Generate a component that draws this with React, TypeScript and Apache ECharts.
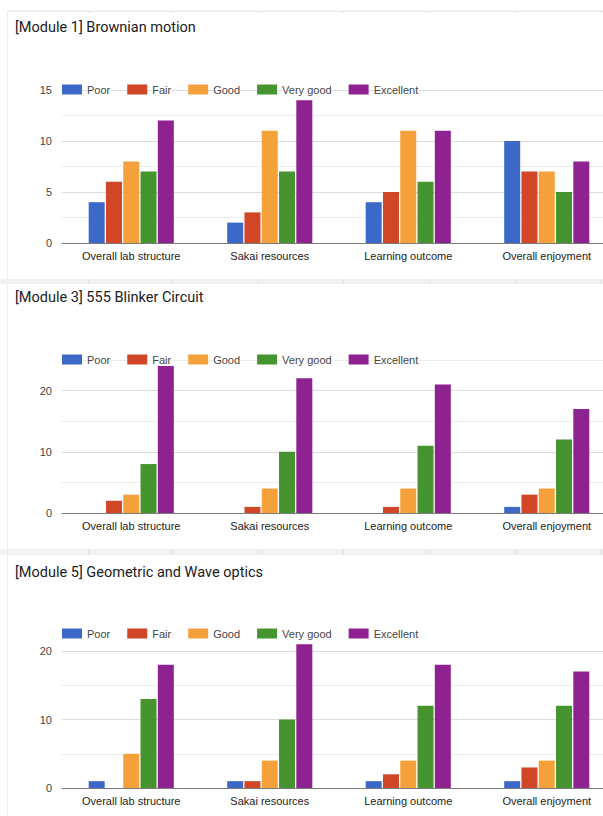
import React, { useEffect, useRef } from "react";
import * as echarts from "echarts";

const categories = ["Overall lab structure", "Sakai resources", "Learning outcome", "Overall enjoyment"];
const ratings = ["Poor", "Fair", "Good", "Very good", "Excellent"];
const ratingColors = ["#3c69c8", "#d04627", "#f4a13b", "#45942f", "#8e2290"];

const titles = ["[Module 1] Brownian motion", "[Module 3] 555 Blinker Circuit", "[Module 5] Geometric and Wave optics"];

// Module 1
const m1Poor = [4, 2, 4, 10];
const m1Fair = [6, 3, 5, 7];
const m1Good = [8, 11, 11, 7];
const m1VeryGood = [7, 7, 6, 5];
const m1Excellent = [12, 14, 11, 8];

// Module 3
const m3Poor = [0, 0, 0, 1];
const m3Fair = [2, 1, 1, 3];
const m3Good = [3, 4, 4, 4];
const m3VeryGood = [8, 10, 11, 12];
const m3Excellent = [24, 22, 21, 17];

// Module 5
const m5Poor = [1, 1, 1, 1];
const m5Fair = [0, 1, 2, 3];
const m5Good = [5, 4, 4, 4];
const m5VeryGood = [13, 10, 12, 12];
const m5Excellent = [18, 21, 18, 17];

const yMax = [15, 25, 20];
const yInterval = [2.5, 5, 5];
const yLabelStep = [5, 10, 10];

const panels = [
  [m1Poor, m1Fair, m1Good, m1VeryGood, m1Excellent],
  [m3Poor, m3Fair, m3Good, m3VeryGood, m3Excellent],
  [m5Poor, m5Fair, m5Good, m5VeryGood, m5Excellent],
];

// layout
const gridTops = [90, 360, 651];
const gridHeights = [153, 153, 137];
const titleTops = [20, 290, 565];
const legendTops = [84, 354, 628];
const bandYs = [[10, 2.5], [279, 5], [549, 6]];
const colXs = [88, 172, 258, 343, 429, 515, 600];

export default function App() {
  const ref = useRef<HTMLDivElement>(null);
  useEffect(() => {
    if (!ref.current) return;
    const chart = echarts.init(ref.current, null, { renderer: "svg" });
    const font = "Liberation Sans, Arial, sans-serif";

    const grids = gridTops.map((t, i) => ({ left: 62, right: 14, top: t, height: gridHeights[i] }));
    const xAxes = gridTops.map((_, i) => ({
      type: "category",
      gridIndex: i,
      data: categories,
      axisTick: { show: false },
      axisLine: { lineStyle: { color: "#7a7a7a", width: 1 } },
      axisLabel: { color: "#222", fontSize: 11, fontFamily: font, margin: 7, interval: 0 },
    }));
    const yAxes = gridTops.map((_, i) => ({
      type: "value",
      gridIndex: i,
      min: 0,
      max: yMax[i],
      interval: yInterval[i],
      axisLine: { show: false },
      axisTick: { show: false },
      axisLabel: {
        color: "#444",
        fontSize: 11,
        fontFamily: font,
        margin: 10,
        formatter: (v: number) => (v % yLabelStep[i] === 0 && !(i === 1 && v === 25) ? String(v) : ""),
      },
      splitLine: { lineStyle: { color: ["#dcdcdc", "#ececec"], width: 1 } },
    }));

    const series: any[] = [];
    panels.forEach((vals, p) => {
      vals.forEach((arr, r) => {
        series.push({
          type: "bar",
          name: ratings[r],
          xAxisIndex: p,
          yAxisIndex: p,
          data: arr,
          barWidth: 16,
          barGap: "8%",
          clip: false,
          itemStyle: { color: ratingColors[r] },
          emphasis: { disabled: true },
        });
      });
    });

    const titleOpts = titles.map((t, i) => ({
      text: t,
      left: 15,
      top: titleTops[i],
      padding: 0,
      textStyle: { fontFamily: "Roboto, Arial, sans-serif", fontSize: 14.5, fontWeight: "normal", color: "#202124" },
    }));

    const legends = legendTops.map((t) => ({
      data: ratings,
      left: 62,
      top: t,
      padding: 0,
      itemWidth: 20,
      itemHeight: 10,
      itemGap: 17,
      icon: "rect",
      selectedMode: false,
      textStyle: { color: "#444", fontSize: 11, fontFamily: font, backgroundColor: "#fff" },
    }));

    const graphics: any[] = [];
    bandYs.forEach(([y, h], i) => {
      graphics.push({ type: "rect", shape: { x: i === 0 ? 7 : 0, y, width: 630, height: h }, style: { fill: "#f1f1f1" }, silent: true });
      colXs.forEach((x) => {
        graphics.push({ type: "rect", shape: { x, y, width: 1, height: h }, style: { fill: "#e4e4e4" }, silent: true });
      });
    });
    graphics.push({ type: "line", shape: { x1: 7.5, y1: 12, x2: 7.5, y2: 816 }, style: { stroke: "#eeeeee", lineWidth: 1 }, silent: true });

    chart.setOption({
      animation: false,
      backgroundColor: "#ffffff",
      title: titleOpts,
      legend: legends,
      grid: grids,
      xAxis: xAxes,
      yAxis: yAxes,
      series,
      graphic: graphics,
    });
    return () => chart.dispose();
  }, []);
  return (
    <div style={{ position: "fixed", left: 0, top: 0, width: 603, height: 816, overflow: "hidden", background: "#fff" }}>
      <div ref={ref} style={{ width: 630, height: 816 }} />
    </div>
  );
}
